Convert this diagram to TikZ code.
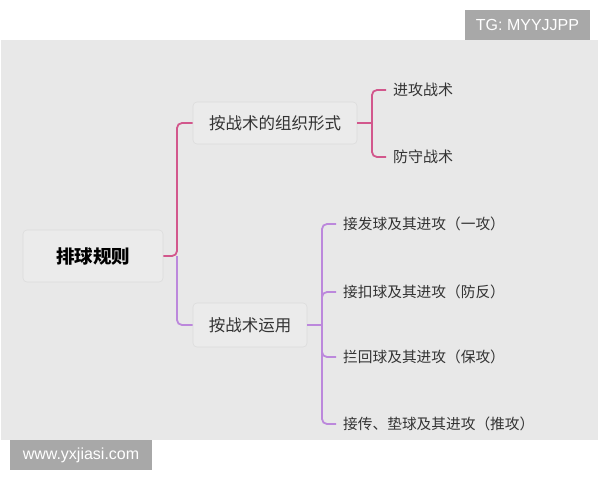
\documentclass[tikz,border=0pt]{standalone}
\usepackage{fontspec}
\setmainfont{Noto Sans CJK SC}
\newfontfamily\latinsans{Liberation Sans}
\definecolor{panel}{HTML}{E8E8E8}
\definecolor{badge}{HTML}{A8A8A8}
\definecolor{pinkline}{HTML}{D2578C}
\definecolor{purpline}{HTML}{BC88DC}
\definecolor{boxfill}{HTML}{EBEBEB}
\definecolor{boxline}{HTML}{DCDCDC}
\definecolor{txt}{HTML}{333333}
\begin{document}
\begin{tikzpicture}[x=1pt,y=-1pt,
  topicbox/.style={draw=boxline,fill=boxfill,rounded corners=4pt,line width=0.6pt,inner sep=0pt,text=txt},
  leaf/.style={anchor=west,inner sep=0pt,text=txt,font=\fontsize{14.7}{16}\selectfont},
  conn/.style={line width=1.8pt,rounded corners=5pt},
  badgebox/.style={fill=badge,text=white,inner sep=0pt,font=\latinsans\fontsize{16}{18}\selectfont}]
\useasboundingbox (0,0) rectangle (600,480);
\fill[white] (0,0) rectangle (600,480);
\fill[panel] (1,40) rectangle (598,440);
\node[badgebox,minimum width=125pt,minimum height=30pt] (tg) at (527.5,25) {TG: MYYJJPP};
\node[badgebox,minimum width=142pt,minimum height=30pt] (www) at (81,455) {www.yxjiasi.com};
% nodes
\node[topicbox,minimum width=140pt,minimum height=52pt,text=black,font=\fontsize{18.5}{20}\selectfont\bfseries] (root) at (93,256) {排球规则};
\node[topicbox,minimum width=164pt,minimum height=42pt,font=\fontsize{16.5}{18}\selectfont] (org) at (275,123) {按战术的组织形式};
\node[topicbox,minimum width=114pt,minimum height=44pt,font=\fontsize{16.5}{18}\selectfont] (use) at (250,325) {按战术运用};
\node[leaf,font=\fontsize{15}{17}\selectfont] (att) at (393,90) {进攻战术};
\node[leaf,font=\fontsize{15}{17}\selectfont] (def) at (393,157) {防守战术};
\node[leaf] (c1) at (343,224) {接发球及其进攻（一攻）};
\node[leaf] (c2) at (343,292) {接扣球及其进攻（防反）};
\node[leaf] (c3) at (343,357) {拦回球及其进攻（保攻）};
\node[leaf] (c4) at (343,424) {接传、垫球及其进攻（推攻）};
% connectors
\coordinate (j) at (177,256);
\draw[conn,pinkline] (root.east) -- (j) |- (org.west);
\draw[conn,purpline] (j) |- (use.west);
\coordinate (j2) at (372,123);
\draw[conn,pinkline] (org.east) -- (j2);
\draw[conn,pinkline] (j2) |- ([xshift=-7pt]att.west);
\draw[conn,pinkline] (j2) |- ([xshift=-7pt]def.west);
\coordinate (j3) at (322,325);
\draw[conn,purpline] (use.east) -- (j3);
\draw[conn,purpline] (j3) |- ([xshift=-7pt]c1.west);
\draw[conn,purpline] (j3) |- ([xshift=-7pt]c2.west);
\draw[conn,purpline] (j3) |- ([xshift=-7pt]c3.west);
\draw[conn,purpline] (j3) |- ([xshift=-7pt]c4.west);
\end{tikzpicture}
\end{document}
